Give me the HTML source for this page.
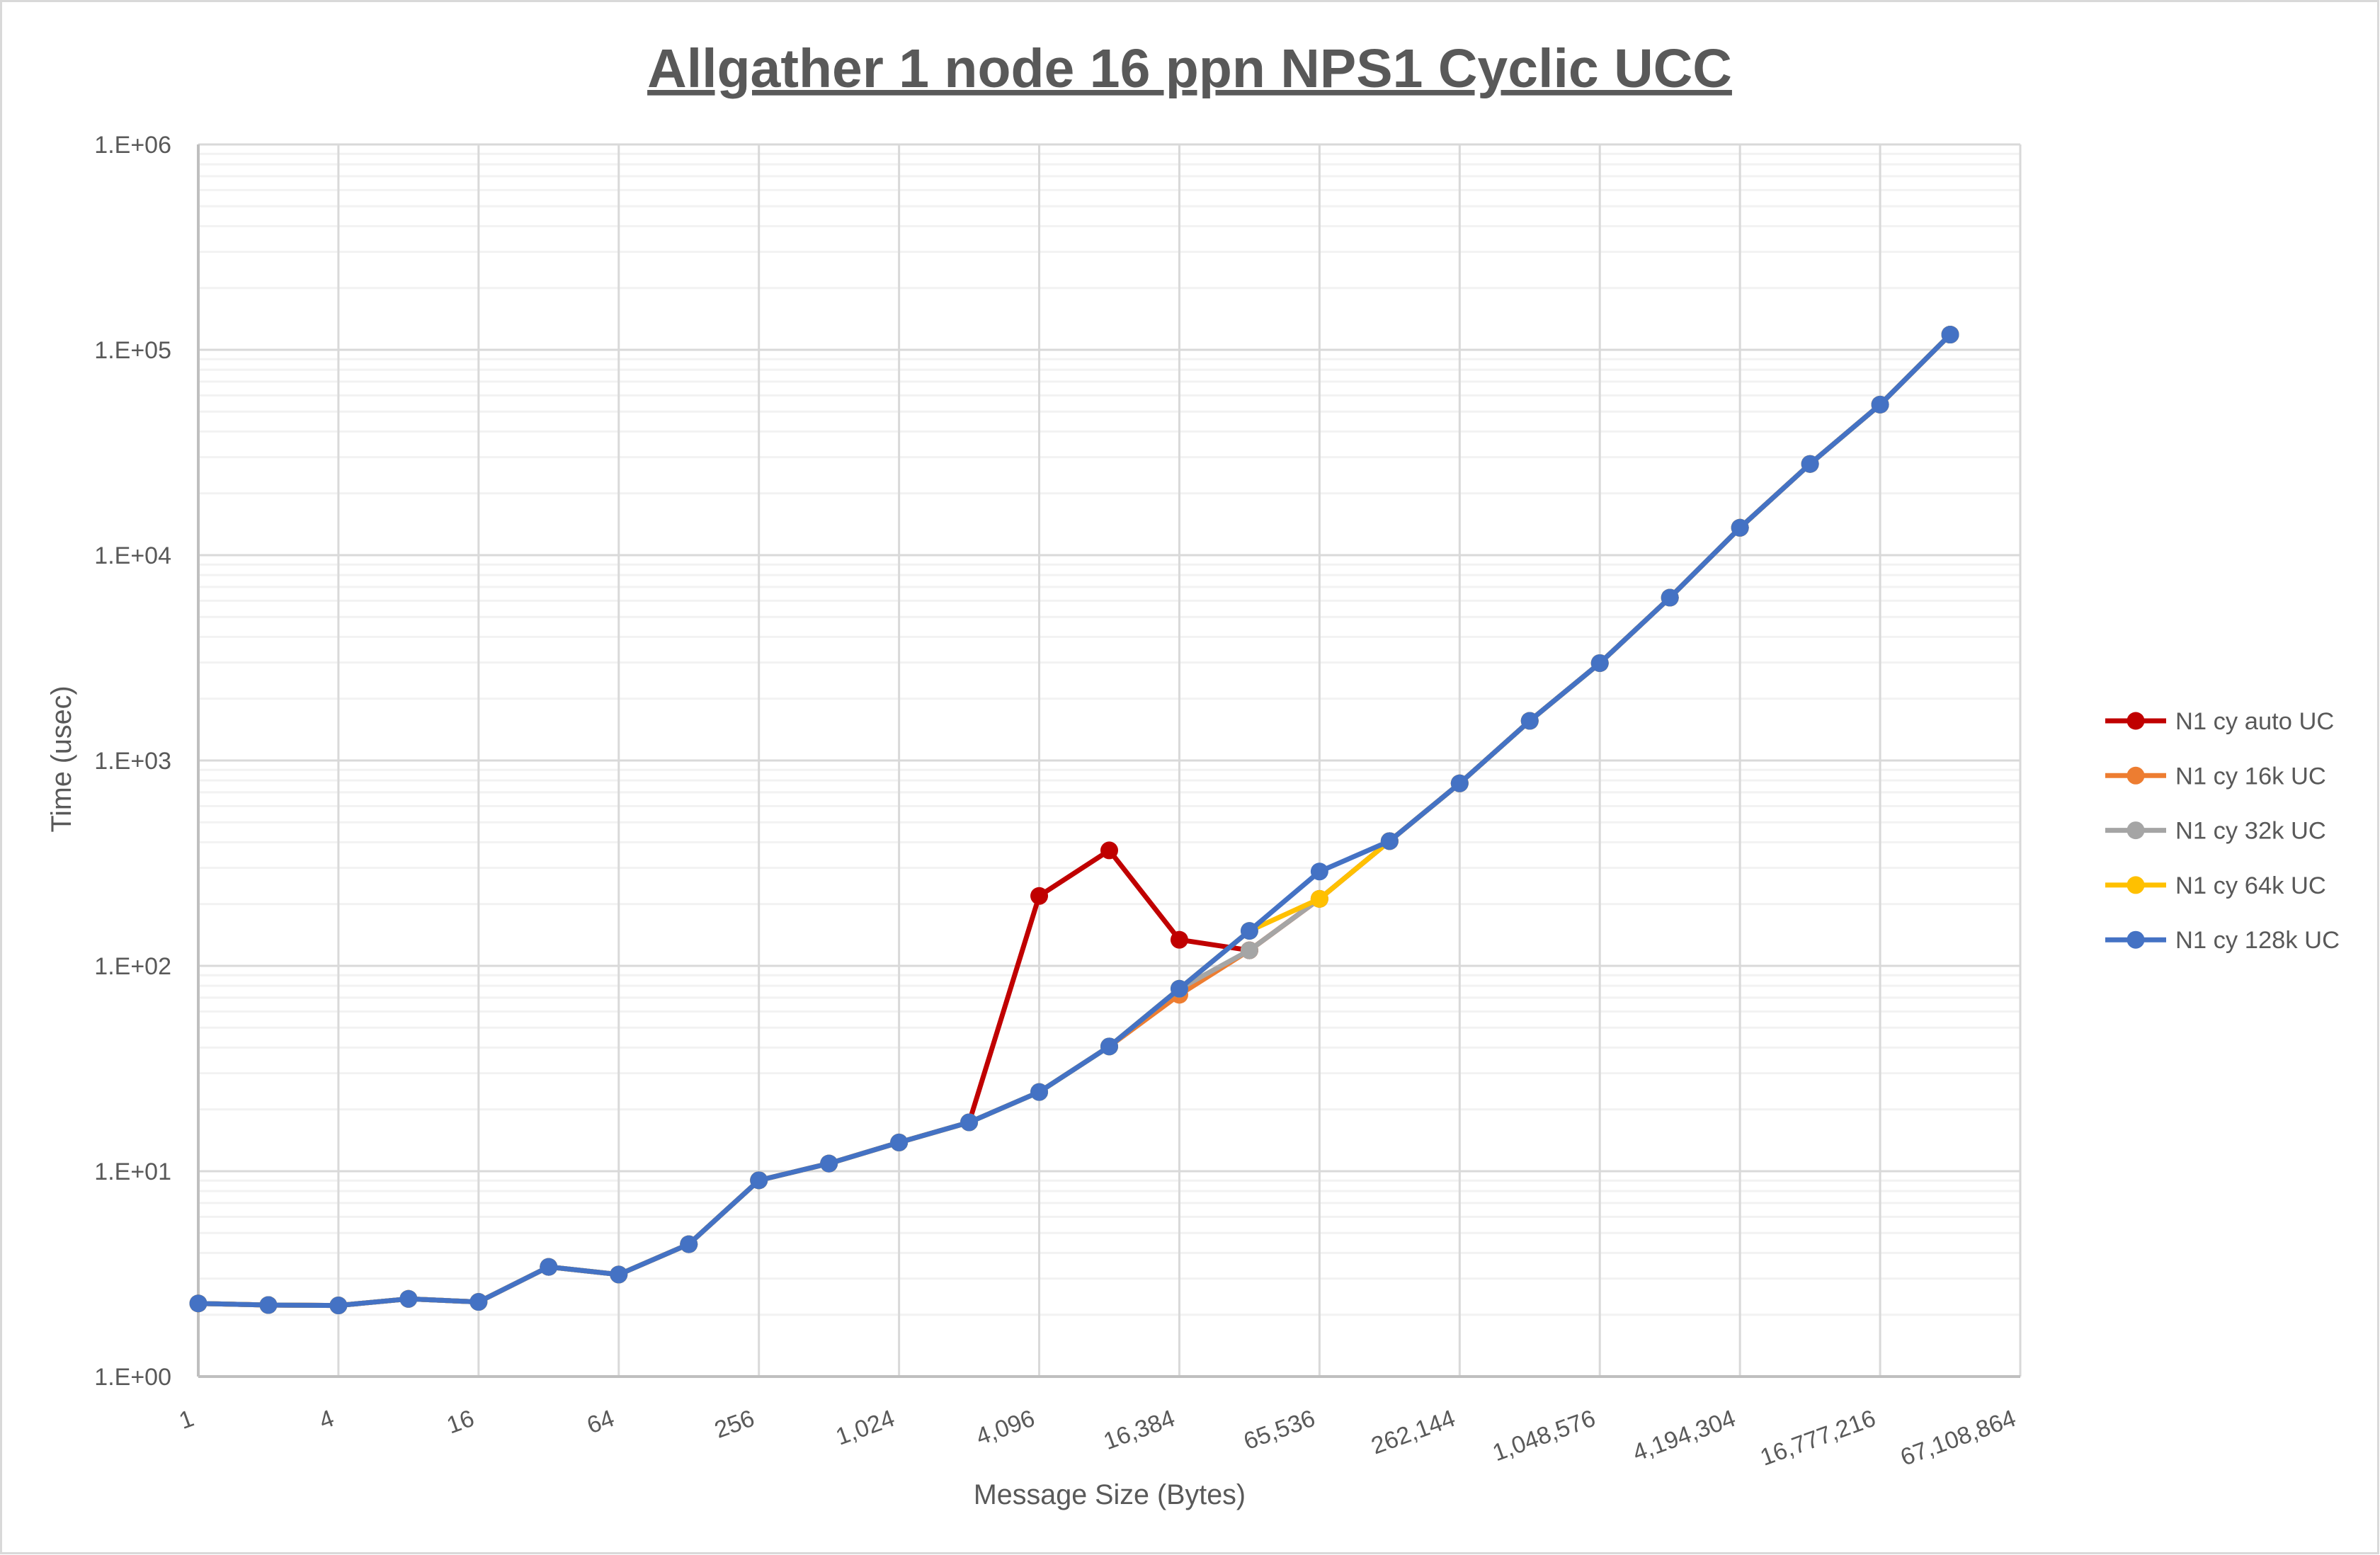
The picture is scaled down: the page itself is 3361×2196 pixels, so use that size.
<!DOCTYPE html>
<html><head><meta charset="utf-8"><style>
html,body{margin:0;padding:0;background:#fff;}
svg{display:block;font-family:"Liberation Sans",sans-serif;}
</style></head><body>
<svg id="chart" width="3361" height="2196" viewBox="0 0 3361 2196" xmlns="http://www.w3.org/2000/svg">
<rect x="1.5" y="1.5" width="3357" height="2192" fill="#fff" stroke="#d9d9d9" stroke-width="3"/>
<text x="1680" y="123" text-anchor="middle" font-size="77" font-weight="bold" fill="#595959" text-decoration="underline">Allgather 1 node 16 ppn NPS1 Cyclic UCC</text>
<g id="grid"></g>
<g id="axes"></g>
<g id="series"></g>
<text x="1567" y="2124" text-anchor="middle" font-size="39.5" fill="#595959">Message Size (Bytes)</text>
<text transform="translate(100,1072) rotate(-90)" text-anchor="middle" font-size="39.5" fill="#595959">Time (usec)</text>
<g id="legend"></g>
</svg>
<script>
const sizes = [1,2,4,8,16,32,64,128,256,512,1024,2048,4096,8192,16384,32768,65536,131072,262144,524288,1048576,2097152,4194304,8388608,16777216,33554432];
const xTickLabels = ["1","4","16","64","256","1,024","4,096","16,384","65,536","262,144","1,048,576","4,194,304","16,777,216","67,108,864"];
const yTickLabels = ["1.E+00","1.E+01","1.E+02","1.E+03","1.E+04","1.E+05","1.E+06"];
const seriesNames = ["N1 cy auto UC","N1 cy 16k UC","N1 cy 32k UC","N1 cy 64k UC","N1 cy 128k UC"];
const seriesColors = ["#c00000","#ed7d31","#a5a5a5","#ffc000","#4472c4"];
const autoUC = [2.27,2.23,2.22,2.39,2.31,3.42,3.14,4.41,9.03,10.9,13.8,17.3,219,365,134,119,212,405,774,1560,2980,6210,13600,27800,54100,118600];
const uc16k  = [2.27,2.23,2.22,2.39,2.31,3.42,3.14,4.41,9.03,10.9,13.8,17.3,24.3,40.5,72.3,119,212,405,774,1560,2980,6210,13600,27800,54100,118600];
const uc32k  = [2.27,2.23,2.22,2.39,2.31,3.42,3.14,4.41,9.03,10.9,13.8,17.3,24.3,40.5,77.4,119,212,405,774,1560,2980,6210,13600,27800,54100,118600];
const uc64k  = [2.27,2.23,2.22,2.39,2.31,3.42,3.14,4.41,9.03,10.9,13.8,17.3,24.3,40.5,77.4,148,212,405,774,1560,2980,6210,13600,27800,54100,118600];
const uc128k = [2.27,2.23,2.22,2.39,2.31,3.42,3.14,4.41,9.03,10.9,13.8,17.3,24.3,40.5,77.4,148,288,405,774,1560,2980,6210,13600,27800,54100,118600];
const allSeries = [autoUC, uc16k, uc32k, uc64k, uc128k];

const NS = "http://www.w3.org/2000/svg";
const L = 280, R = 2853, T = 204, B = 1944;
const xMax = 26, yMax = 6;
function xPos(v){ return L + Math.log2(v) / xMax * (R - L); }
function yPos(v){ return B - Math.log10(v) / yMax * (B - T); }
function mk(tag, attrs, parent){ const e = document.createElementNS(NS, tag); for (const k in attrs) e.setAttribute(k, attrs[k]); parent.appendChild(e); return e; }

const grid = document.getElementById('grid');
for (let d = 0; d < yMax; d++) {
  for (let m = 2; m <= 9; m++) {
    const y = yPos(m * Math.pow(10, d));
    const ln = mk('line', {x1:L, x2:R, y1:y, y2:y, stroke:'#f2f2f2', 'stroke-width':3}, grid);
    
    
  }
}
for (let d = 0; d <= yMax; d++) {
  const y = yPos(Math.pow(10, d));
  const ln = mk('line', {x1:L, x2:R, y1:y, y2:y, stroke:'#d9d9d9', 'stroke-width':3}, grid);
  
  
}
for (let i = 0; i <= xMax; i += 2) {
  const x = xPos(Math.pow(2, i));
  const ln = mk('line', {x1:x, x2:x, y1:T, y2:B, stroke:'#d9d9d9', 'stroke-width':3}, grid);
  
  
}
const axes = document.getElementById('axes');
const ax1 = mk('line', {x1:L, x2:L, y1:T, y2:B, stroke:'#bfbfbf', 'stroke-width':4}, axes);


const ax2 = mk('line', {x1:L, x2:R, y1:B, y2:B, stroke:'#bfbfbf', 'stroke-width':4}, axes);



yTickLabels.forEach((lab, i) => {
  const t = mk('text', {x:242, y:yPos(Math.pow(10, i)) + 12, 'text-anchor':'end', 'font-size':34, fill:'#595959'}, axes);
  t.textContent = lab;
  
  
});
xTickLabels.forEach((lab, i) => {
  const x = xPos(Math.pow(4, i)) - 4;
  const y = 2012;
  const t = mk('text', {x:x, y:y, 'text-anchor':'end', 'font-size':34, fill:'#595959', transform:`rotate(-20 ${x} ${y})`}, axes);
  t.textContent = lab;
  
  
});

const sg = document.getElementById('series');
allSeries.forEach((vals, si) => {
  const g = mk('g', {}, sg);
  
  
  const pts = vals.map((v, i) => xPos(sizes[i]).toFixed(1) + ',' + yPos(v).toFixed(1)).join(' ');
  const pl = mk('polyline', {points:pts, fill:'none', stroke:seriesColors[si], 'stroke-width':7, 'stroke-linejoin':'round'}, g);
  
  
  vals.forEach((v, i) => {
    const c = mk('circle', {cx:xPos(sizes[i]), cy:yPos(v), r:12.5, fill:seriesColors[si]}, g);
    
    
  });
});

const lg = document.getElementById('legend');
seriesNames.forEach((n, i) => {
  const y = 1018 + i * 77.3;
  const g = mk('g', {}, lg);
  
  
  mk('line', {x1:2973, x2:3059, y1:y, y2:y, stroke:seriesColors[i], 'stroke-width':7}, g);
  mk('circle', {cx:3016, cy:y, r:12.5, fill:seriesColors[i]}, g);
  const t = mk('text', {x:3072, y:y + 12, 'font-size':34.5, fill:'#595959'}, g);
  t.textContent = n;
  
  
});
</script>
</body></html>
